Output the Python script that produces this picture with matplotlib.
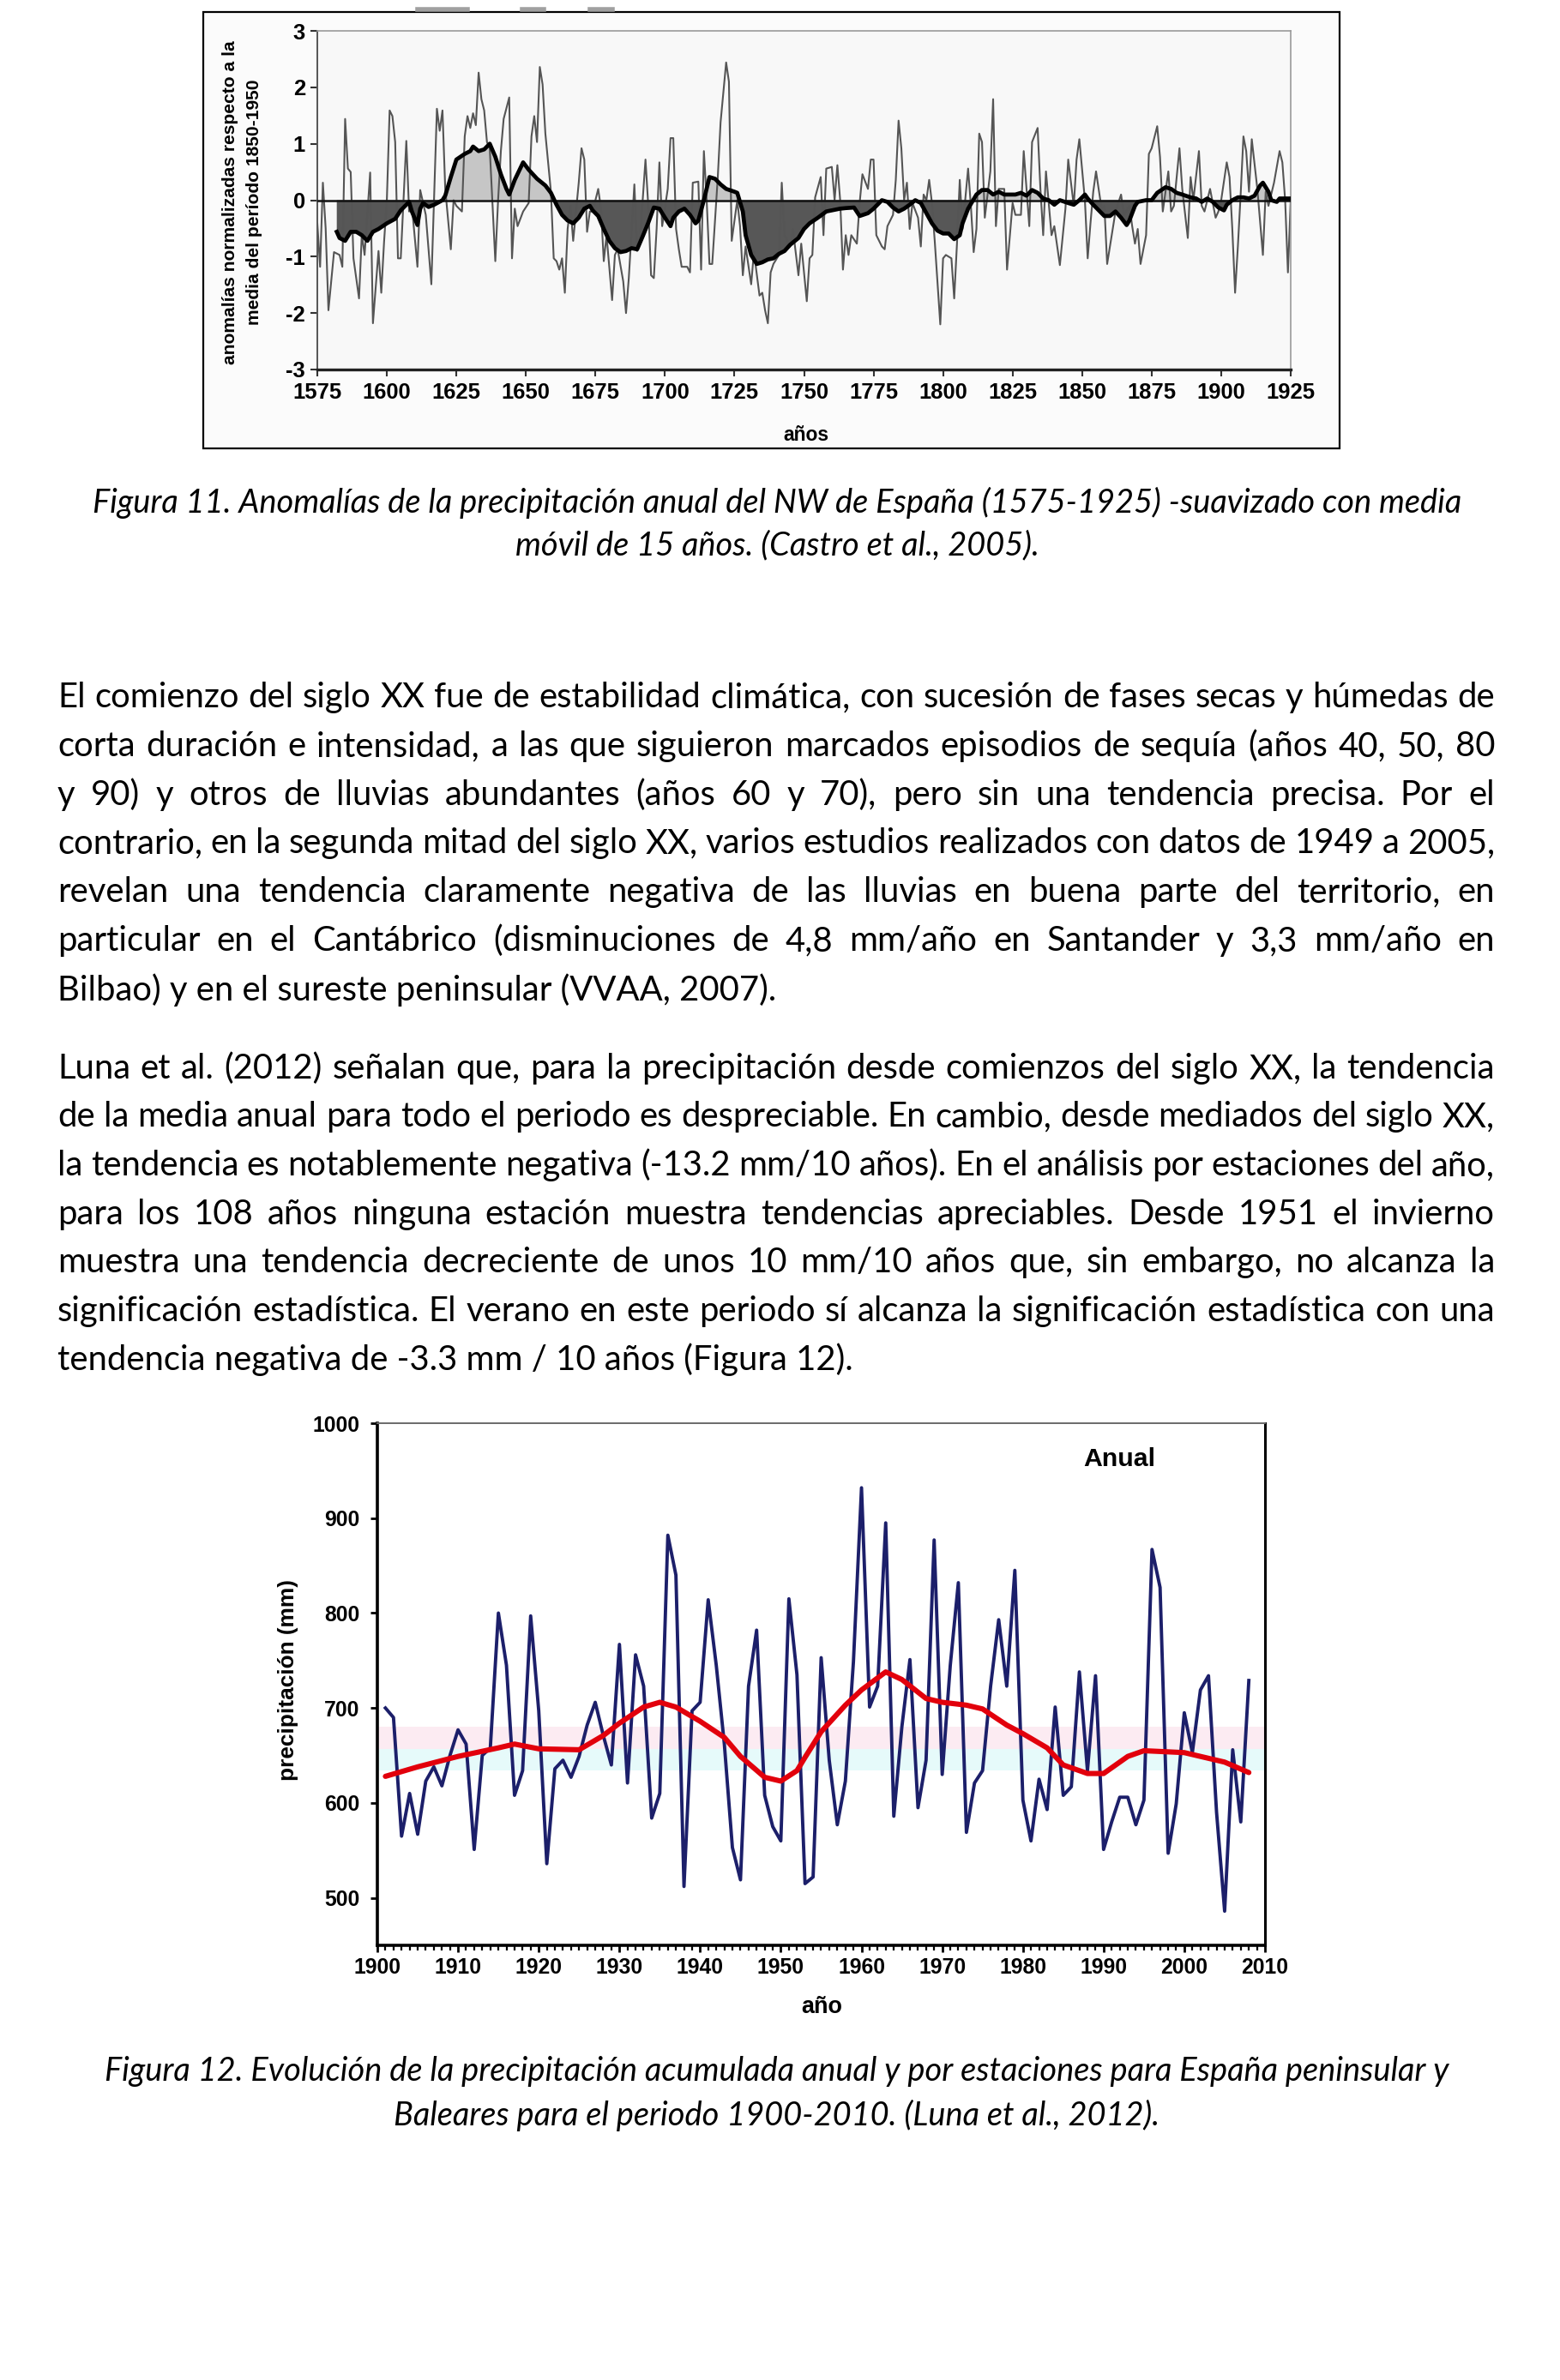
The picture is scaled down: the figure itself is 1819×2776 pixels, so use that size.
import matplotlib
matplotlib.use('Agg')
import numpy as np
import matplotlib.pyplot as plt
from matplotlib.patches import Rectangle
from matplotlib.lines import Line2D
from matplotlib.ticker import MultipleLocator

plt.rcParams['axes.unicode_minus'] = False
plt.rcParams['font.family'] = ['Liberation Sans', 'DejaVu Sans']
plt.rcParams['font.weight'] = 'bold'

W, H = 1819, 2776
BODY = ['Lato', 'DejaVu Sans']
NARROW = ['Liberation Sans Narrow', 'Liberation Sans', 'DejaVu Sans']

# ---------------- Figura 11: anomalias NW de España ----------------
anom_years = [1575, 1576, 1577, 1578, 1579, 1581, 1583, 1584, 1585, 1586,
              1587, 1588, 1590, 1591, 1592, 1594, 1595, 1596, 1597, 1598,
              1599, 1600, 1601, 1602, 1603, 1604, 1605, 1607, 1608, 1609,
              1611, 1612, 1614, 1616, 1618, 1619, 1620, 1621, 1623, 1624,
              1625, 1627, 1628, 1629, 1630, 1631, 1632, 1633, 1634, 1635,
              1636, 1637, 1639, 1640, 1641, 1642, 1644, 1645, 1646, 1647,
              1649, 1651, 1652, 1653, 1654, 1655, 1656, 1657, 1659, 1660,
              1661, 1662, 1663, 1664, 1665, 1666, 1667, 1669, 1670, 1671,
              1672, 1673, 1674, 1676, 1677, 1678, 1679, 1681, 1682, 1683,
              1685, 1686, 1687, 1689, 1690, 1691, 1693, 1694, 1695, 1696,
              1697, 1698, 1699, 1701, 1702, 1703, 1704, 1705, 1706, 1708,
              1709, 1710, 1712, 1713, 1714, 1715, 1716, 1717, 1719, 1720,
              1722, 1723, 1724, 1726, 1727, 1728, 1729, 1731, 1732, 1734,
              1735, 1736, 1737, 1738, 1739, 1741, 1742, 1743, 1745, 1746,
              1748, 1749, 1751, 1752, 1753, 1754, 1756, 1757, 1758, 1760,
              1761, 1762, 1763, 1764, 1765, 1766, 1767, 1769, 1770, 1771,
              1773, 1774, 1775, 1776, 1778, 1779, 1780, 1782, 1783, 1784,
              1785, 1786, 1787, 1788, 1789, 1791, 1792, 1793, 1794, 1795,
              1796, 1797, 1799, 1800, 1801, 1803, 1804, 1805, 1806, 1807,
              1809, 1810, 1811, 1812, 1813, 1814, 1815, 1817, 1818, 1819,
              1820, 1822, 1823, 1825, 1826, 1828, 1829, 1831, 1832, 1834,
              1835, 1836, 1837, 1839, 1840, 1842, 1844, 1845, 1847, 1848,
              1849, 1851, 1852, 1853, 1854, 1855, 1857, 1858, 1859, 1861,
              1862, 1864, 1865, 1867, 1868, 1869, 1870, 1871, 1873, 1874,
              1875, 1877, 1878, 1879, 1881, 1882, 1883, 1885, 1886, 1888,
              1889, 1890, 1892, 1893, 1894, 1896, 1898, 1899, 1900, 1902,
              1903, 1904, 1905, 1906, 1907, 1908, 1909, 1910, 1911, 1913,
              1915, 1916, 1917, 1919, 1921, 1922, 1923, 1924, 1925]
anom_vals = [-0.41, -1.18, 0.31, -0.50, -1.95, -0.92, -0.97, -1.18, 1.44, 0.56,
             0.50, -1.03, -1.74, -0.60, -0.97, 0.49, -2.18, -1.54, -0.90, -1.64,
             -0.74, 0.00, 1.59, 1.49, 1.03, -1.03, -1.03, 1.05, -0.20, -0.10,
             -1.18, 0.18, -0.26, -1.49, 1.62, 1.23, 1.59, 0.20, -0.87, 0.00,
             -0.10, -0.20, 1.13, 1.49, 1.28, 1.54, 1.33, 2.26, 1.79, 1.59,
             1.03, 0.92, -1.08, 0.00, 0.87, 1.44, 1.82, -1.03, -0.15, -0.46,
             -0.20, -0.05, 1.13, 1.49, 1.03, 2.36, 2.05, 1.18, 0.15, -1.03,
             -1.08, -1.23, -1.03, -1.64, -0.51, -0.10, -0.72, 0.31, 0.92, 0.72,
             -0.56, -0.20, -0.20, 0.20, -0.15, -1.08, -0.62, -1.77, -0.97, -0.87,
             -1.44, -2.00, -1.38, 0.28, -0.90, -0.70, 0.72, -0.10, -1.33, -1.38,
             -0.51, 0.67, -0.46, 0.20, 1.10, 1.10, -0.51, -0.87, -1.18, -1.18,
             -1.28, 0.31, 0.33, -1.23, 0.87, 0.00, -1.13, -1.13, 0.41, 1.38,
             2.44, 2.10, -0.72, 0.00, -0.46, -1.33, -0.82, -1.49, -0.92, -1.69,
             -1.64, -1.95, -2.18, -1.28, -1.13, -0.97, 0.31, -0.62, -0.82, -0.51,
             -1.33, -0.77, -1.79, -1.03, -0.97, 0.05, 0.41, -0.62, 0.56, 0.59,
             0.00, 0.62, 0.00, -1.23, -0.62, -0.97, -0.62, -0.77, -0.05, 0.46,
             0.20, 0.72, 0.72, -0.62, -0.82, -0.87, -0.46, -0.26, 0.36, 1.41,
             0.92, 0.00, 0.31, -0.51, -0.05, -0.31, -0.82, 0.10, 0.00, 0.36,
             -0.05, -0.72, -2.20, -1.03, -0.97, -1.03, -1.74, -0.77, 0.36, -0.51,
             0.56, -0.10, -0.92, -0.51, 1.18, 1.03, -0.31, 0.51, 1.79, -0.46,
             0.20, 0.20, -1.23, -0.05, -0.26, -0.26, 0.87, -0.46, 1.03, 1.28,
             0.20, -0.62, 0.51, -0.62, -0.46, -1.15, -0.15, 0.72, -0.10, 0.72,
             1.08, 0.00, -1.03, -0.41, 0.15, 0.51, -0.15, -0.10, -1.13, -0.51,
             -0.20, 0.10, -0.26, -0.10, -0.46, -0.77, -0.51, -1.13, -0.62, 0.82,
             0.92, 1.31, 0.77, -0.20, 0.51, -0.20, -0.10, 0.92, 0.20, -0.67,
             0.41, 0.00, 0.87, -0.10, -0.20, 0.20, -0.31, -0.20, 0.00, 0.67,
             0.41, -0.51, -1.64, -0.82, 0.10, 1.13, 0.87, 0.15, 1.08, 0.20,
             -0.97, 0.15, -0.10, 0.31, 0.87, 0.67, 0.00, -1.28, 0.00]

# media movil de 15 años
ma_years = [1582, 1583, 1585, 1587, 1589, 1591, 1593, 1595, 1597, 1600,
            1603, 1605, 1608, 1609, 1611, 1612, 1613, 1615, 1617, 1620,
            1621, 1623, 1625, 1628, 1630, 1631, 1633, 1635, 1637, 1639,
            1641, 1643, 1644, 1646, 1649, 1651, 1654, 1657, 1659, 1661,
            1663, 1665, 1667, 1669, 1671, 1673, 1674, 1676, 1678, 1680,
            1682, 1684, 1686, 1688, 1690, 1692, 1694, 1696, 1698, 1700,
            1702, 1703, 1705, 1707, 1709, 1711, 1712, 1714, 1716, 1718,
            1720, 1722, 1725, 1726, 1728, 1729, 1731, 1733, 1735, 1737,
            1739, 1741, 1743, 1745, 1748, 1750, 1752, 1755, 1758, 1760,
            1763, 1765, 1768, 1770, 1773, 1775, 1777, 1778, 1780, 1782,
            1784, 1786, 1788, 1790, 1792, 1794, 1796, 1798, 1800, 1802,
            1804, 1806, 1807, 1809, 1812, 1814, 1816, 1818, 1820, 1822,
            1824, 1826, 1828, 1830, 1832, 1834, 1836, 1838, 1840, 1842,
            1845, 1847, 1849, 1851, 1852, 1854, 1856, 1858, 1860, 1862,
            1864, 1866, 1867, 1869, 1870, 1873, 1875, 1877, 1880, 1882,
            1884, 1886, 1889, 1891, 1893, 1895, 1897, 1899, 1901, 1902,
            1904, 1906, 1908, 1910, 1912, 1914, 1915, 1917, 1918, 1920,
            1921, 1923, 1925]
ma_vals = [-0.56, -0.67, -0.72, -0.56, -0.56, -0.62, -0.72, -0.56, -0.51, -0.41,
           -0.33, -0.18, -0.03, -0.20, -0.44, -0.15, -0.05, -0.12, -0.08, 0.00,
           0.08, 0.41, 0.72, 0.82, 0.87, 0.95, 0.87, 0.90, 1.00, 0.77,
           0.46, 0.20, 0.10, 0.36, 0.67, 0.54, 0.38, 0.26, 0.13, -0.08,
           -0.26, -0.36, -0.41, -0.31, -0.15, -0.10, -0.18, -0.28, -0.51, -0.72,
           -0.85, -0.92, -0.90, -0.85, -0.87, -0.64, -0.40, -0.13, -0.15, -0.31,
           -0.46, -0.31, -0.20, -0.15, -0.26, -0.41, -0.36, 0.00, 0.41, 0.38,
           0.28, 0.20, 0.15, 0.13, -0.20, -0.62, -0.97, -1.13, -1.10, -1.05,
           -1.03, -0.95, -0.90, -0.79, -0.67, -0.51, -0.41, -0.31, -0.20, -0.18,
           -0.15, -0.14, -0.13, -0.28, -0.23, -0.15, -0.05, 0.00, -0.03, -0.13,
           -0.20, -0.15, -0.08, 0.00, -0.05, -0.23, -0.41, -0.54, -0.59, -0.59,
           -0.69, -0.62, -0.41, -0.15, 0.10, 0.18, 0.18, 0.10, 0.15, 0.10,
           0.10, 0.10, 0.13, 0.08, 0.18, 0.13, 0.03, 0.00, -0.08, 0.00,
           -0.05, -0.08, 0.00, 0.10, 0.03, -0.08, -0.18, -0.28, -0.28, -0.20,
           -0.31, -0.44, -0.36, -0.10, -0.03, 0.00, 0.00, 0.13, 0.23, 0.20,
           0.13, 0.10, 0.05, 0.03, -0.03, 0.03, -0.03, -0.13, -0.18, -0.08,
           0.00, 0.05, 0.05, 0.03, 0.08, 0.26, 0.31, 0.15, 0.00, -0.03,
           0.03, 0.03, 0.03]

# ---------------- Figura 12: precipitacion anual España ----------------
prec_years = list(range(1901, 2009))
prec_vals = [700, 690, 565, 610, 567, 623, 638, 618, 650, 677,
             662, 551, 650, 658, 800, 745, 608, 634, 797, 697,
             536, 636, 645, 627, 649, 682, 706, 671, 640, 767,
             621, 756, 723, 584, 610, 882, 840, 512, 697, 706,
             814, 745, 662, 553, 519, 723, 782, 608, 575, 560,
             815, 735, 515, 522, 753, 645, 577, 623, 749, 932,
             701, 723, 895, 586, 680, 751, 595, 645, 877, 630,
             745, 832, 569, 621, 634, 723, 793, 723, 845, 603,
             560, 625, 593, 701, 608, 617, 738, 634, 734, 551,
             580, 606, 606, 577, 603, 867, 827, 547, 599, 695,
             653, 719, 734, 590, 486, 656, 580, 729]
smooth_years = [1901, 1905, 1910, 1915, 1917, 1920, 1925, 1928, 1930, 1933,
                1935, 1937, 1940, 1943, 1945, 1948, 1950, 1952, 1953, 1955,
                1958, 1960, 1963, 1965, 1968, 1970, 1973, 1975, 1978, 1980,
                1983, 1985, 1988, 1990, 1993, 1995, 2000, 2003, 2005, 2008]
smooth_vals = [628, 638, 649, 658, 662, 657, 656, 671, 684, 701,
               706, 701, 686, 669, 649, 627, 623, 634, 648, 675,
               703, 719, 738, 730, 710, 706, 703, 699, 682, 673,
               658, 640, 631, 631, 649, 655, 653, 647, 643, 632]

# ---------------- texto de la pagina ----------------
caption11 = ["Figura 11. Anomalías de la precipitación anual del NW de España (1575-1925) -suavizado con media",
             "móvil de 15 años. (Castro et al., 2005)."]
caption12 = ["Figura 12. Evolución de la precipitación acumulada anual y por estaciones para España peninsular y",
             "Baleares para el periodo 1900-2010. (Luna et al., 2012)."]
para1 = ["El comienzo del siglo XX fue de estabilidad climática, con sucesión de fases secas y húmedas de",
         "corta duración e intensidad, a las que siguieron marcados episodios de sequía (años 40, 50, 80",
         "y 90) y otros de lluvias abundantes (años 60 y 70), pero sin una tendencia precisa. Por el",
         "contrario, en la segunda mitad del siglo XX, varios estudios realizados con datos de 1949 a 2005,",
         "revelan una tendencia claramente negativa de las lluvias en buena parte del territorio, en",
         "particular en el Cantábrico (disminuciones de 4,8 mm/año en Santander y 3,3 mm/año en",
         "Bilbao) y en el sureste peninsular (VVAA, 2007)."]
para2 = ["Luna et al. (2012) señalan que, para la precipitación desde comienzos del siglo XX, la tendencia",
         "de la media anual para todo el periodo es despreciable. En cambio, desde mediados del siglo XX,",
         "la tendencia es notablemente negativa (-13.2 mm/10 años). En el análisis por estaciones del año,",
         "para los 108 años ninguna estación muestra tendencias apreciables. Desde 1951 el invierno",
         "muestra una tendencia decreciente de unos 10 mm/10 años que, sin embargo, no alcanza la",
         "significación estadística. El verano en este periodo sí alcanza la significación estadística con una",
         "tendencia negativa de -3.3 mm / 10 años (Figura 12)."]

assert len(anom_years) == len(anom_vals)
assert len(ma_years) == len(ma_vals)
assert len(prec_years) == len(prec_vals)
assert len(smooth_years) == len(smooth_vals)

fig = plt.figure(figsize=(W / 100, H / 100), dpi=100)
fig.patch.set_facecolor('white')
renderer = fig.canvas.get_renderer()


def fx(x):
    return x / W


def fy(y):
    return 1 - y / H


def ax_px(x0, y0, x1, y1):
    return fig.add_axes([x0 / W, 1 - y1 / H, (x1 - x0) / W, (y1 - y0) / H])


def measure(s, size, **kw):
    t = fig.text(0, 0, s, fontsize=size, **kw)
    w = t.get_window_extent(renderer).width
    t.remove()
    return w


def fit(s, target, **kw):
    return 20 * target / measure(s, 20, **kw)


# ======== Figura 11 ========
fig.add_artist(Rectangle((fx(237), fy(523)), (1562 - 237) / W, (523 - 14) / H,
                         transform=fig.transFigure, facecolor='#fbfbfb',
                         edgecolor='black', lw=1.6, zorder=0))
for xa, xb in [(487, 545), (609, 634), (688, 714)]:
    fig.add_artist(Line2D([fx(xa), fx(xb)], [fy(11), fy(11)],
                          transform=fig.transFigure, color='#a0a0a0', lw=4))

ax1 = ax_px(370, 36, 1505, 431)
ax1.set_facecolor('#f8f8f8')
ma = np.array(ma_vals)
ax1.fill_between(ma_years, ma, 0, where=ma >= 0, interpolate=True,
                 color='#c6c6c6', lw=0, zorder=1)
ax1.fill_between(ma_years, ma, 0, where=ma <= 0, interpolate=True,
                 color='#575757', lw=0, zorder=1)
ax1.plot(anom_years, anom_vals, color='#555555', lw=1.5, zorder=2)
ax1.axhline(0, color='#111111', lw=1.8, zorder=3)
ax1.plot(ma_years, ma_vals, color='black', lw=3.4, zorder=4)
ax1.set_xlim(1575, 1925)
ax1.set_ylim(-3, 3)
ax1.set_xticks(range(1575, 1926, 25))
ax1.set_yticks(range(-3, 4))
tsize1 = fit('1575', 57, family=NARROW, weight='bold')
ax1.tick_params(axis='both', direction='out', length=6, width=1.5,
                color='#333333', labelsize=tsize1)
ax1.tick_params(axis='x', pad=5)
ax1.tick_params(axis='y', pad=4)
for lbl in ax1.get_xticklabels() + ax1.get_yticklabels():
    lbl.set_family(NARROW)
ax1.spines['left'].set_color('#555555')
ax1.spines['left'].set_linewidth(1.4)
ax1.spines['bottom'].set_color('#222222')
ax1.spines['bottom'].set_linewidth(2.4)
for s in ['top', 'right']:
    ax1.spines[s].set_color('#9a9a9a')
    ax1.spines[s].set_linewidth(1.2)

yl1 = 'anomalías normalizadas respecto a la'
yl2 = 'media del período 1850-1950'
ys = fit(yl1, 377, family=NARROW, weight='bold')
fig.text(fx(269), fy(236), yl1, rotation=90, ha='center', va='center',
         fontsize=ys, family=NARROW, weight='bold')
fig.text(fx(296), fy(236), yl2, rotation=90, ha='center', va='center',
         fontsize=ys, family=NARROW, weight='bold')
fig.text(fx(940), fy(507), 'años', ha='center', va='center',
         fontsize=fit('años', 53, family=NARROW, weight='bold'),
         family=NARROW, weight='bold')

# ======== textos ========
cap_size = np.mean([fit(caption11[0], 1592, family=BODY, style='italic', weight='normal'),
                    fit(caption11[1], 610, family=BODY, style='italic', weight='normal'),
                    fit(caption12[0], 1584, family=BODY, style='italic', weight='normal'),
                    fit(caption12[1], 884, family=BODY, style='italic', weight='normal')])
for line, yc in zip(caption11 + caption12, [590, 639, 2419, 2471]):
    fig.text(fx(906), fy(yc + 8), line, ha='center', va='baseline',
             fontsize=cap_size, family=BODY, style='italic', weight='normal')

body_size = np.mean([fit(para1[-1], 836, family=BODY, weight='normal'),
                     fit(para2[-1], 930, family=BODY, weight='normal')])
X0, X1 = 67, 1743


def body_line(line, yc, justify):
    yb = yc + 9
    if not justify:
        fig.text(fx(X0), fy(yb), line, ha='left', va='baseline',
                 fontsize=body_size, family=BODY, weight='normal')
        return
    words = line.split()
    widths = [measure(w, body_size, family=BODY, weight='normal') for w in words]
    gap = (X1 - X0 - sum(widths)) / (len(words) - 1)
    x = X0
    for w, wd in zip(words, widths):
        fig.text(fx(x), fy(yb), w, ha='left', va='baseline',
                 fontsize=body_size, family=BODY, weight='normal')
        x += wd + gap


for i, (line, yc) in enumerate(zip(para1, [816, 873, 930, 986, 1043, 1100, 1158])):
    body_line(line, yc, i < len(para1) - 1)
for i, (line, yc) in enumerate(zip(para2, [1249, 1305, 1362, 1419, 1475, 1532, 1589])):
    body_line(line, yc, i < len(para2) - 1)

# ======== Figura 12 ========
ax2 = ax_px(440, 1660, 1475, 2269)
ax2.set_facecolor('white')
ax2.axhspan(657, 680, color='#fcebf2', lw=0, zorder=0)
ax2.axhspan(634, 657, color='#e6fafa', lw=0, zorder=0)
ax2.plot(prec_years, prec_vals, color='#1c1f6a', lw=2.8, zorder=2)
ax2.plot(smooth_years, smooth_vals, color='#e2000c', lw=4.4, zorder=3,
         solid_capstyle='round')
ax2.set_xlim(1900, 2010)
ax2.set_ylim(450, 1000)
ax2.set_xticks(range(1900, 2011, 10))
ax2.set_yticks(range(500, 1001, 100))
ax2.xaxis.set_minor_locator(MultipleLocator(1))
tsize2 = fit('1900', 55, weight='bold')
ax2.tick_params(axis='both', which='major', direction='out', length=6,
                width=2.0, color='black', labelsize=tsize2)
ax2.tick_params(axis='x', which='minor', direction='out', length=4, width=1.6)
ax2.tick_params(axis='x', which='major', pad=4)
ax2.tick_params(axis='y', which='major', pad=9)
for s in ['left', 'bottom']:
    ax2.spines[s].set_color('black')
    ax2.spines[s].set_linewidth(2.6)
ax2.spines['right'].set_color('black')
ax2.spines['right'].set_linewidth(2.2)
ax2.spines['top'].set_color('#6a6a6a')
ax2.spines['top'].set_linewidth(1.4)

fig.text(fx(336), fy(1960), 'precipitación (mm)', rotation=90, ha='center',
         va='center', fontsize=fit('precipitación (mm)', 234, weight='bold'),
         weight='bold')
fig.text(fx(958), fy(2341), 'año', ha='center', va='center',
         fontsize=fit('año', 48, weight='bold'), weight='bold')
fig.text(fx(1305), fy(1702), 'Anual', ha='center', va='center',
         fontsize=fit('Anual', 84, weight='bold'), weight='bold')

fig.savefig('out.png', dpi=100)
